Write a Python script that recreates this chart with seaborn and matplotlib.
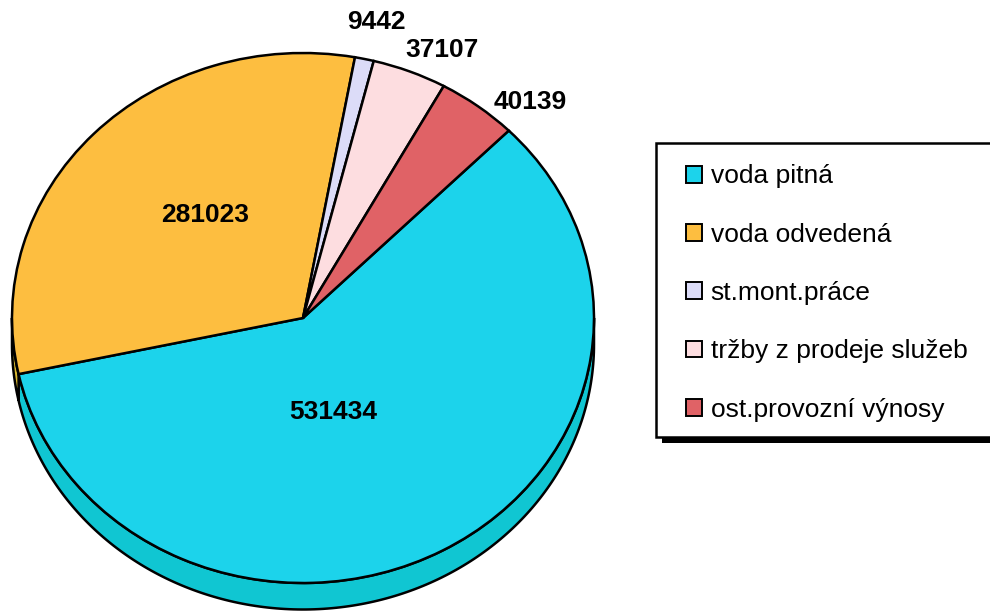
import numpy as np
import matplotlib
matplotlib.use("Agg")
import matplotlib.pyplot as plt
import seaborn as sns
from matplotlib.patches import Polygon, Patch, Rectangle

# ---- data ----
categories = ["voda pitná", "voda odvedená", "st.mont.práce",
              "tržby z prodeje služeb", "ost.provozní výnosy"]
values = [531434, 281023, 9442, 37107, 40139]
value_labels = ["531434", "281023", "9442", "37107", "40139"]

# ---- style ----
top_colors = ["#1CD3EB", "#FDBE40", "#DCDCF8", "#FDDDE0", "#E06266"]
side_colors = ["#10C6D2", "#D9B830", "#B9B9D6", "#D8BCBF", "#B84D50"]
label_anchor = [(0.103, -0.355), (-0.337, 0.389), (0.252, 1.117),
                (0.478, 1.011), (0.780, 0.815)]

sns.set_style("white")
plt.rcParams["font.family"] = ["Liberation Sans", "DejaVu Sans"]

W, H = 990, 611
fig = plt.figure(figsize=(W / 100, H / 100), dpi=100)
ax = fig.add_axes([0, 0, 1, 1])

cx_px, cy_px, rx_px, ry_px = 303, 318, 291, 265
depth = 0.1
lw = 1.8

wedges, _ = ax.pie(values, colors=top_colors, startangle=45, counterclock=False,
                   wedgeprops=dict(edgecolor="black", linewidth=lw, zorder=3))
ax.set_aspect("auto")
ax.set_xlim(-cx_px / rx_px, (W - cx_px) / rx_px)
ax.set_ylim((cy_px - H) / ry_px, cy_px / ry_px)
ax.axis("off")

# 3D side of the pie (visible lower half)
for w, sc in zip(wedges, side_colors):
    a, b = w.theta1, w.theta2
    for k in range(-2, 3):
        lo = max(a, 180 + 360 * k)
        hi = min(b, 360 + 360 * k)
        if hi > lo:
            t = np.radians(np.linspace(lo, hi, 200))
            upper = np.column_stack([np.cos(t), np.sin(t)])
            lower = np.column_stack([np.cos(t), np.sin(t) - depth])[::-1]
            ax.add_patch(Polygon(np.vstack([upper, lower]), closed=True,
                                 facecolor=sc, edgecolor="black",
                                 linewidth=lw, zorder=2))

for txt, (x, y) in zip(value_labels, label_anchor):
    ax.text(x, y, txt, ha="center", va="center", fontsize=19,
            fontweight="bold", color="black", zorder=5)

# legend frame (extends past the right edge) with its shadow
box_x0, box_y0, box_x1, box_y1 = 656, 143, 1005, 437
fig.patches.append(Rectangle(((box_x0 + 6) / W, 1 - (box_y1 + 6) / H),
                             (box_x1 - box_x0) / W, (box_y1 - box_y0) / H,
                             transform=fig.transFigure, facecolor="black",
                             edgecolor="none", zorder=1))
fig.patches.append(Rectangle((box_x0 / W, 1 - box_y1 / H),
                             (box_x1 - box_x0) / W, (box_y1 - box_y0) / H,
                             transform=fig.transFigure, facecolor="white",
                             edgecolor="black", linewidth=1.8, zorder=2))

handles = [Patch(facecolor=c, edgecolor="black", linewidth=1.4) for c in top_colors]
leg = fig.legend(handles, categories, loc="upper left",
                 bbox_to_anchor=(686 / W, 1 - 164.5 / H), frameon=False,
                 fontsize=19, handlelength=0.6, handleheight=0.6,
                 handletextpad=0.33, labelspacing=1.3,
                 borderpad=0, borderaxespad=0)
for t in leg.get_texts():
    t.set_color("black")

fig.savefig("out.png", dpi=100)
